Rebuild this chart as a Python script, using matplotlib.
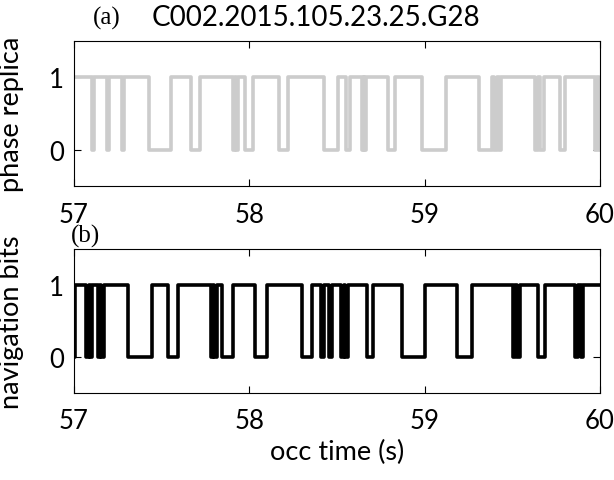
import numpy as np
import matplotlib.pyplot as plt

# time window (s)
t_start, t_end = 57.0, 60.0

# phase replica: starting level and toggle times (s)
replica_level0 = 1
replica_edges = [57.102, 57.114, 57.186, 57.198, 57.272, 57.284,
                 57.425, 57.555, 57.669, 57.717,
                 57.906, 57.918, 57.922, 57.934,
                 57.978, 58.019, 58.171, 58.219,
                 58.426, 58.506, 58.554, 58.577,
                 58.641, 58.652, 58.656, 58.667,
                 58.791, 58.831, 58.985, 59.122, 59.310, 59.384,
                 59.398, 59.412, 59.424, 59.435,
                 59.627, 59.645, 59.655, 59.679,
                 59.771, 59.802,
                 59.973, 59.985, 59.993]

# navigation bits: starting level and toggle times (s)
nav_level0 = 0
nav_edges = [57.008,
             57.070, 57.087, 57.091, 57.103,
             57.137, 57.150, 57.155, 57.169,
             57.310, 57.443, 57.538, 57.595,
             57.783, 57.795, 57.800, 57.816,
             57.842, 57.909, 58.032, 58.099, 58.299, 58.356,
             58.410, 58.424, 58.456, 58.470,
             58.524, 58.540, 58.546, 58.562,
             58.669, 58.707, 58.869, 59.002, 59.183, 59.268,
             59.504, 59.518, 59.527, 59.541,
             59.648, 59.686,
             59.857, 59.872, 59.890, 59.905]

xticks = [57, 58, 59, 60]
yticks = [0, 1]


def step_trace(level0, edges):
    t = np.concatenate([[t_start], edges, [t_end]])
    levels = (level0 + np.arange(len(edges) + 1)) % 2
    y = np.append(levels, levels[-1])
    return t, y


label_font = 'Lato'

fig = plt.figure(figsize=(6.14, 4.81), dpi=100)
ax1 = fig.add_axes([0.1205, 0.6102, 0.8567, 0.3035])
ax2 = fig.add_axes([0.1205, 0.1809, 0.8567, 0.2994])

for ax, (lvl0, edges), color, ylabel in [
        (ax1, (replica_level0, replica_edges), '#cccccc', 'phase replica'),
        (ax2, (nav_level0, nav_edges), 'black', 'navigation bits')]:
    t, y = step_trace(lvl0, edges)
    ax.step(t, y, where='post', color=color, lw=2.6,
            solid_joinstyle='round', solid_capstyle='round')
    ax.set_xlim(t_start, t_end)
    ax.set_ylim(-0.5, 1.5)
    ax.set_xticks(xticks)
    ax.set_yticks(yticks)
    ax.tick_params(direction='in', top=True, right=True, length=5,
                   width=0.8, labelsize=18.5)
    ax.tick_params(axis='x', pad=11)
    ax.tick_params(axis='y', pad=7)
    for lab in ax.get_xticklabels() + ax.get_yticklabels():
        lab.set_family(label_font)
    for sp in ax.spines.values():
        sp.set_linewidth(0.8)
    ax.set_ylabel(ylabel, fontsize=19.5, family=label_font)

ax1.yaxis.set_label_coords(-0.095, 0.5)
ax2.yaxis.set_label_coords(-0.095, 0.5)
ax2.set_xlabel('occ time (s)', fontsize=19.5, family=label_font, labelpad=4)

fig.text(0.152, 0.962, '(a)', fontsize=18, family='Liberation Serif',
         ha='left', va='center')
fig.text(0.515, 0.962, 'C002.2015.105.23.25.G28', fontsize=20,
         family=label_font, ha='center', va='center')
fig.text(0.116, 0.509, '(b)', fontsize=18, family='Liberation Serif',
         ha='left', va='center')

fig.savefig('out.png', dpi=100)
